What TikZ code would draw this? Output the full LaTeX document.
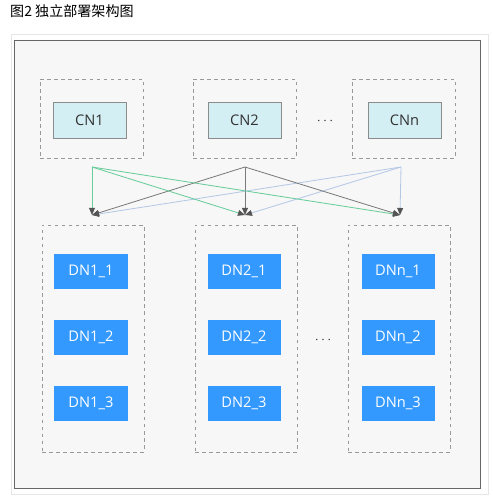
\documentclass[tikz,border=0pt]{standalone}
\usepackage{fontspec}
\setmainfont{Open Sans}
\newfontfamily\cjkfont{Noto Sans CJK SC}
\usetikzlibrary{arrows.meta}
\definecolor{frame-gray}{HTML}{666666}
\definecolor{panel-bg}{HTML}{F7F7F7}
\definecolor{edge-light}{HTML}{E6E6E6}
\definecolor{dash-gray}{HTML}{999999}
\definecolor{cn-fill}{HTML}{D3EFF4}
\definecolor{cn-line}{HTML}{8C8C8C}
\definecolor{dn-blue}{HTML}{3399FF}
\definecolor{link-green}{HTML}{66CC99}
\definecolor{link-gray}{HTML}{7A7A7A}
\definecolor{link-blue}{HTML}{B4C8E6}
\definecolor{tip-gray}{HTML}{555555}
\definecolor{text-dark}{HTML}{333333}

\tikzset{
  group-box/.style={draw=dash-gray, dashed, thick, fill=panel-bg},
  cn-node/.style={draw=cn-line, thick, fill=cn-fill, text=text-dark,
    minimum width=2.19cm, minimum height=1.08cm},
  dn-node/.style={fill=dn-blue, text=white,
    minimum width=2.19cm, minimum height=1.05cm},
  link/.style={line width=0.7pt, -{Triangle[length=6pt, width=5pt, color=tip-gray]}}
}

\begin{document}
\begin{tikzpicture}[x=0.03cm, y=-0.03cm,
      every node/.style={font=\fontsize{12.5}{15}\selectfont, inner sep=0pt}]
    \useasboundingbox (0,0) rectangle (492,502);
    % frame
    \draw[edge-light, fill=white] (11,34) rectangle (488,494);
    \draw[frame-gray, fill=panel-bg, line width=0.8pt] (14,40) rectangle (480,488);
    \node[anchor=west, text=black, font=\cjkfont\fontsize{12}{14}\selectfont] (title) at (10,11)
          {图2 独立部署架构图};

    % CN row
    \node[group-box, minimum width=3.09cm, minimum height=2.37cm] (cg1) at (91.5,118.5) {};
    \node[group-box, minimum width=3.09cm, minimum height=2.37cm] (cg2) at (244.5,118.5) {};
    \node[group-box, minimum width=3.09cm, minimum height=2.37cm] (cgn) at (403.5,118.5) {};
    \node[cn-node] (CN1) at (89.5,120) {CN1};
    \node[cn-node] (CN2) at (244.5,120) {CN2};
    \node[cn-node] (CNn) at (404.5,120) {CNn};
    \node[text=text-dark] (cdots) at (325,121) {$\cdots$};

    % DN columns
    \node[group-box, minimum width=3.06cm, minimum height=6.81cm] (dg1) at (93,338.5) {};
    \node[group-box, minimum width=3.06cm, minimum height=6.81cm] (dg2) at (246,338.5) {};
    \node[group-box, minimum width=3.06cm, minimum height=6.81cm] (dgn) at (399,338.5) {};
    \foreach \col/\x in {1/91, 2/244, n/398} {
      \foreach \row/\y in {1/271.5, 2/337.5, 3/403.5} {
        \node[dn-node] (DN\col\row) at (\x,\y) {DN\col\_\row};
      }
    }
    \node[text=text-dark] (ddots) at (323,340) {$\cdots$};

    % links
    \coordinate (s1) at (92,167);
    \coordinate (s2) at (245,167);
    \coordinate (s3) at (401,167);
    \coordinate (t1) at (92,215);
    \coordinate (t2) at (245,215);
    \coordinate (t3) at (400,215);
    \foreach \t in {t1, t2, t3} {
      \draw[link, link-blue] (s3) -- (\t);
      \draw[link, link-green] (s1) -- (\t);
      \draw[link, link-gray] (s2) -- (\t);
    }
  \end{tikzpicture}
\end{document}
